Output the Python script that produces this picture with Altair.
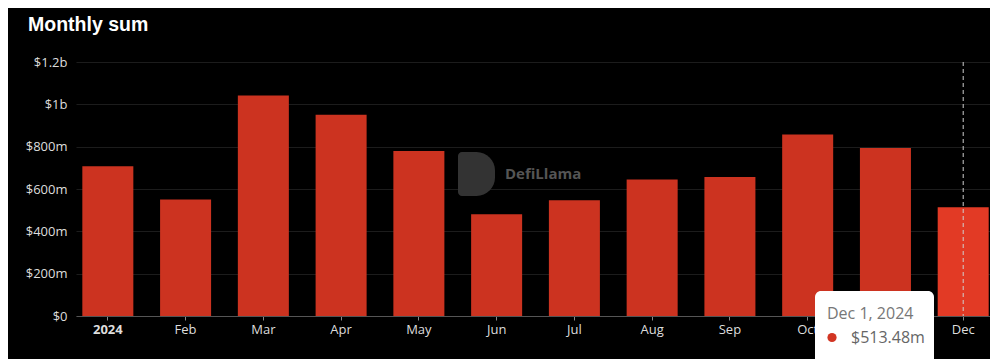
import altair as alt
import pandas as pd

# ---- data ----
months = ["2024", "Feb", "Mar", "Apr", "May", "Jun", "Jul", "Aug", "Sep", "Oct", "Nov", "Dec"]
sums_musd = [708, 550, 1042, 951, 780, 481, 547, 645, 657, 857, 794, 513.48]
y_ticks = [0, 200, 400, 600, 800, 1000, 1200]
hover_month = "Dec"
hover_date = "Dec 1, 2024"
title_text = "Monthly sum"
watermark_text = "DefiLlama"

df = pd.DataFrame({"month": months, "sum": sums_musd})

W, H = 914, 254
LABEL_FONT = "Open Sans"

xscale = alt.Scale(domain=months, paddingInner=0.344, paddingOuter=0.049, align=0.83, round=False)
yscale = alt.Scale(domain=[0, 1200], nice=False)

x_axis = alt.Axis(
    title=None, labelAngle=0, grid=False, domain=True, domainColor="#555555",
    ticks=True, tickSize=4, tickColor="#888888", labelPadding=3,
    labelColor="#dddddd", labelFont=LABEL_FONT, labelFontSize=13,
    labelFontWeight={"condition": {"test": "datum.value == '2024'", "value": "bold"}, "value": "normal"},
)
y_axis = alt.Axis(
    title=None, values=y_ticks, grid=True, gridColor="#1c1c1c", domain=False, ticks=False,
    labelPadding=9, labelColor="#dddddd", labelFont=LABEL_FONT, labelFontSize=13,
    labelExpr="datum.value == 0 ? '$0' : (datum.value >= 1000 ? '$' + (datum.value/1000) + 'b' : '$' + datum.value + 'm')",
)

base = alt.Chart(df)

bars = base.mark_bar().encode(
    x=alt.X("month:N", scale=xscale, sort=months, axis=x_axis),
    y=alt.Y("sum:Q", scale=yscale, axis=y_axis),
    color=alt.condition(alt.datum.month == hover_month, alt.value("#e23a25"), alt.value("#cc3320")),
)

hover = base.transform_filter(alt.datum.month == hover_month)

rule = hover.mark_rule(color="#cfcfcf", strokeDash=[4, 3], strokeWidth=1).encode(
    x=alt.X("month:N", scale=xscale, sort=months),
    y=alt.value(0),
    y2=alt.value(H),
)

wm_df = pd.DataFrame({"t": [watermark_text]})
logo = alt.Chart(wm_df).mark_rect(
    color="#333333", cornerRadiusTopRight=20, cornerRadiusBottomRight=20,
    cornerRadiusTopLeft=4, cornerRadiusBottomLeft=4,
).encode(x=alt.value(382), x2=alt.value(419), y=alt.value(90), y2=alt.value(134))
wm = alt.Chart(wm_df).mark_text(
    align="left", baseline="middle", font=LABEL_FONT, fontSize=15, fontWeight="bold", color="#555555",
).encode(x=alt.value(429), y=alt.value(112), text="t:N")

tip_box = hover.mark_rect(color="white", cornerRadius=6).encode(
    x=alt.value(739), x2=alt.value(858), y=alt.value(229), y2=alt.value(330)
)
tip_date = hover.mark_text(
    align="left", baseline="middle", font=LABEL_FONT, fontSize=16, color="#777777",
).encode(x=alt.value(751), y=alt.value(252), text=alt.value(hover_date))
tip_dot = hover.mark_circle(color="#d23523", opacity=1, size=85).encode(
    x=alt.value(756), y=alt.value(275.5)
)
tip_val = hover.transform_calculate(
    label="'$' + format(datum.sum, '.2f') + 'm'"
).mark_text(
    align="left", baseline="middle", font=LABEL_FONT, fontSize=16, color="#666666",
).encode(x=alt.value(775), y=alt.value(275.5), text="label:N")

chart = alt.layer(bars, rule, logo, wm, tip_box, tip_date, tip_dot, tip_val).properties(
    width=W,
    height=H,
    title=alt.TitleParams(
        title_text, anchor="start", frame="group", dx=-48, offset=6,
        font="Liberation Sans", fontSize=19.5, fontWeight="bold", color="white", baseline="alphabetic",
    ),
    padding={"left": 68, "top": 54, "right": 0, "bottom": 44},
    autosize=alt.AutoSizeParams(type="none"),
    background="black",
).configure_view(stroke=None)

chart.save("out.html", embed_options={"renderer": "svg", "actions": False})
